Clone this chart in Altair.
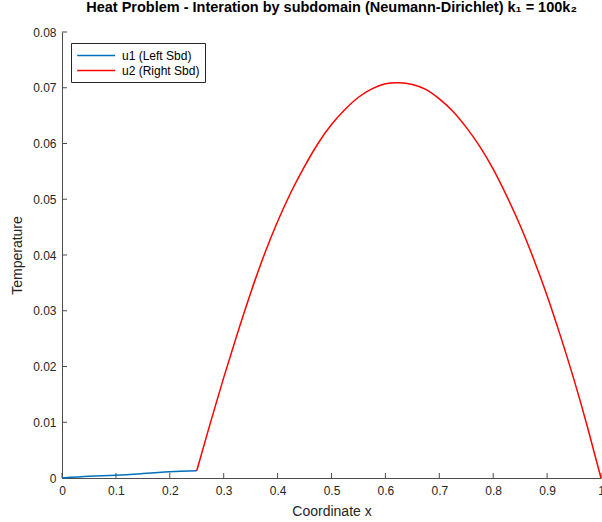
import altair as alt
import pandas as pd

# u1 (left subdomain)
u1_x = [0.0, 0.05, 0.10, 0.15, 0.20, 0.25]
u1_y = [0.0, 0.0003, 0.0005, 0.0008, 0.0011, 0.0013]

# u2 (right subdomain)
u2_x = [0.25, 0.275, 0.30, 0.325, 0.35, 0.375, 0.40, 0.425, 0.45, 0.475,
        0.50, 0.525, 0.55, 0.575, 0.60, 0.625, 0.65, 0.675, 0.70, 0.725,
        0.75, 0.775, 0.80, 0.825, 0.85, 0.875, 0.90, 0.925, 0.95, 0.975, 1.0]
u2_y = [0.0013, 0.0098, 0.0180, 0.0258, 0.0332, 0.0400, 0.0460, 0.0513, 0.0559, 0.0600,
        0.0634, 0.0661, 0.0683, 0.0698, 0.0707, 0.0709, 0.0706, 0.0697, 0.0680, 0.0658,
        0.0629, 0.0595, 0.0554, 0.0506, 0.0453, 0.0393, 0.0327, 0.0254, 0.0176, 0.0091, 0.0]

series_names = ["u1 (Left Sbd)", "u2 (Right Sbd)"]
series_colors = ["#0072BD", "#FF0000"]

x_ticks = [0.0, 0.1, 0.2, 0.3, 0.4, 0.5, 0.6, 0.7, 0.8, 0.9, 1.0]
y_ticks = [0.0, 0.01, 0.02, 0.03, 0.04, 0.05, 0.06, 0.07, 0.08]

title_text = "Heat Problem - Interation by subdomain (Neumann-Dirichlet) k\u2081 = 100k\u2082"

rows = []
for i, (x, y) in enumerate(zip(u1_x, u1_y)):
    rows.append({"x": x, "y": y, "series": series_names[0], "order": i})
for i, (x, y) in enumerate(zip(u2_x, u2_y)):
    rows.append({"x": x, "y": y, "series": series_names[1], "order": i})
df = pd.DataFrame(rows)

xt = pd.DataFrame({"t": x_ticks})
yt = pd.DataFrame({"t": y_ticks})

W, H = 539, 446
AXIS_COLOR = "#4d4d4d"
FONT = "Liberation Sans"

xscale = alt.Scale(domain=[0, 1], nice=False, zero=False)
yscale = alt.Scale(domain=[0, 0.08], nice=False)

lines = alt.Chart(df).mark_line(strokeWidth=1.5, interpolate="natural").encode(
    x=alt.X("x:Q", scale=xscale,
            axis=alt.Axis(values=x_ticks, format=".1~f", title="Coordinate x",
                          tickSize=0, labelPadding=7, labelFlush=False,
                          titlePadding=8)),
    y=alt.Y("y:Q", scale=yscale,
            axis=alt.Axis(values=y_ticks, format=".2~f", title="Temperature",
                          tickSize=0, labelPadding=6, titlePadding=8)),
    color=alt.Color("series:N",
                    scale=alt.Scale(domain=series_names, range=series_colors),
                    legend=alt.Legend(title=None, orient="none", legendX=9, legendY=11,
                                      symbolType="M-1,0L5,0", symbolSize=160,
                                      symbolStrokeWidth=1.5, labelFontSize=12,
                                      labelOffset=31,
                                      labelColor="#000000", labelFont=FONT,
                                      strokeColor="#262626", padding=5,
                                      rowPadding=1, fillColor="white")),
    order="order:Q",
)

xtick_rules = alt.Chart(xt).mark_rule(color=AXIS_COLOR, strokeWidth=1).encode(
    x=alt.X("t:Q", scale=xscale),
    y=alt.value(H),
    y2=alt.value(H - 5),
)
ytick_rules = alt.Chart(yt).mark_rule(color=AXIS_COLOR, strokeWidth=1).encode(
    y=alt.Y("t:Q", scale=yscale),
    x=alt.value(0),
    x2=alt.value(5),
)

chart = alt.layer(xtick_rules, ytick_rules, lines).properties(
    width=W, height=H,
    title=alt.TitleParams(text=title_text, anchor="middle", offset=11,
                          fontSize=14.5, fontWeight="bold", font=FONT, color="#000000"),
    autosize=alt.AutoSizeParams(type="none"),
    padding={"left": 62, "top": 32, "right": 1, "bottom": 44},
).configure(font=FONT).configure_view(stroke=None).configure_axis(
    grid=False, domainColor=AXIS_COLOR, labelColor="#262626", titleColor="#262626",
    labelFontSize=12, titleFontSize=14, titleFontWeight="normal", labelFont=FONT,
    titleFont=FONT,
)

chart.save("out.html", embed_options={"renderer": "svg", "actions": False})
